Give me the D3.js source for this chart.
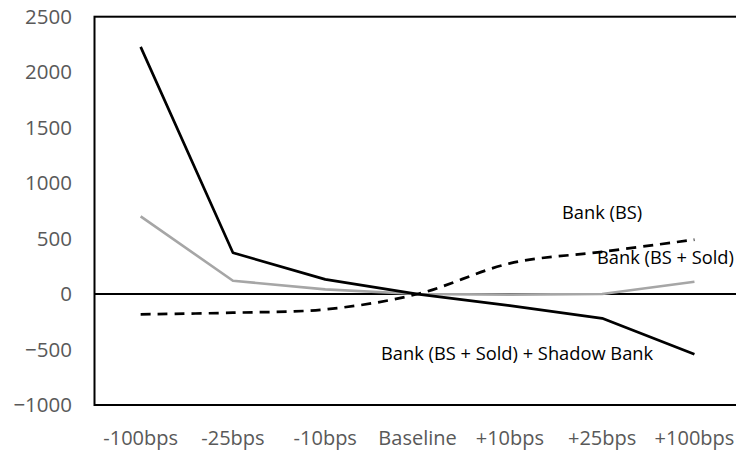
<!DOCTYPE html>
<html>
<head>
<meta charset="utf-8">
<script src="https://cdn.jsdelivr.net/npm/d3@7"></script>
<style>
  html, body { margin: 0; padding: 0; background: #fff; overflow: hidden; }
  svg { display: block; }
</style>
</head>
<body>
<svg id="chart" width="736" height="450"></svg>
<script>
// ---- data ----
const categories = ["-100bps", "-25bps", "-10bps", "Baseline", "+10bps", "+25bps", "+100bps"];
const bankBSSoldShadow = [2228, 372, 132, 0, -105, -219, -543];   // solid black
const bankBS = [700, 120, 42, 0, -5, 0, 111];                        // grey
const bankBSSold = [-183, -168, -138, 0, 276, 381, 490];             // dashed black
const yTicks = [-1000, -500, 0, 500, 1000, 1500, 2000, 2500];
const annotations = [
  { text: "Bank (BS)", cat: "+25bps", value: 720 },
  { text: "Bank (BS + Sold)", cat: "+100bps", value: 315 },
  { text: "Bank (BS + Sold) + Shadow Bank", cat: "Baseline", value: -550 }
];

// ---- layout ----
const W = 736, H = 450;
const plot = { left: 94.5, top: 16.7, right: 740.6, bottom: 405 };
const font = "'Open Sans', 'Noto Sans', sans-serif";

const svg = d3.select("#chart");

const x = d3.scaleBand().domain(categories).range([plot.left, plot.right]).padding(0);
const y = d3.scaleLinear().domain([-1000, 2500]).range([plot.bottom, plot.top]);
const cx = c => x(c) + x.bandwidth() / 2;

// plot area border (left, top, bottom; right side is off-canvas)
svg.append("rect")
  .attr("x", plot.left).attr("y", plot.top)
  .attr("width", plot.right - plot.left).attr("height", plot.bottom - plot.top)
  .attr("fill", "none").attr("stroke", "#000").attr("stroke-width", 2);

// zero line
svg.append("line")
  .attr("x1", plot.left).attr("x2", W)
  .attr("y1", y(0)).attr("y2", y(0))
  .attr("stroke", "#000").attr("stroke-width", 2);

// y axis labels
const yAxis = d3.axisLeft(y).tickValues(yTicks).tickSize(0).tickPadding(0).tickFormat(d3.format("d"));
const gy = svg.append("g").attr("transform", `translate(${72},0)`).call(yAxis);
gy.select(".domain").remove();
gy.selectAll("text")
  .attr("font-family", font).attr("font-size", 20.5).attr("fill", "#595959");

// x axis labels
const xAxis = d3.axisBottom(x).tickSize(0).tickPadding(0);
const gx = svg.append("g").attr("transform", `translate(0,${431})`).call(xAxis);
gx.select(".domain").remove();
gx.selectAll("text")
  .attr("font-family", font).attr("font-size", 20).attr("fill", "#595959");

// lines
const mkData = vals => categories.map((c, i) => ({ c, v: vals[i] }));
const straight = d3.line().x(d => cx(d.c)).y(d => y(d.v));
const smooth = d3.line().x(d => cx(d.c)).y(d => y(d.v)).curve(d3.curveCatmullRom.alpha(0));

svg.append("path").datum(mkData(bankBS))
  .attr("d", straight).attr("fill", "none")
  .attr("stroke", "#a6a6a6").attr("stroke-width", 2.6).attr("stroke-linejoin", "round");

svg.append("path").datum(mkData(bankBSSold))
  .attr("d", smooth).attr("fill", "none")
  .attr("stroke", "#000").attr("stroke-width", 2.7).attr("stroke-dasharray", "10,7");

svg.append("path").datum(mkData(bankBSSoldShadow))
  .attr("d", straight).attr("fill", "none")
  .attr("stroke", "#000").attr("stroke-width", 2.7).attr("stroke-linejoin", "round");

// annotations
const annPos = {
  "Bank (BS)": { x: 562 },
  "Bank (BS + Sold)": { x: 597 },
  "Bank (BS + Sold) + Shadow Bank": { x: 381 }
};
svg.selectAll("text.ann").data(annotations).enter().append("text")
  .attr("class", "ann")
  .attr("x", d => annPos[d.text].x)
  .attr("y", d => y(d.value))
  .attr("dominant-baseline", "middle")
  .attr("font-family", font).attr("font-size", 18.3).attr("fill", "#000")
  .text(d => d.text);
</script>
</body>
</html>
